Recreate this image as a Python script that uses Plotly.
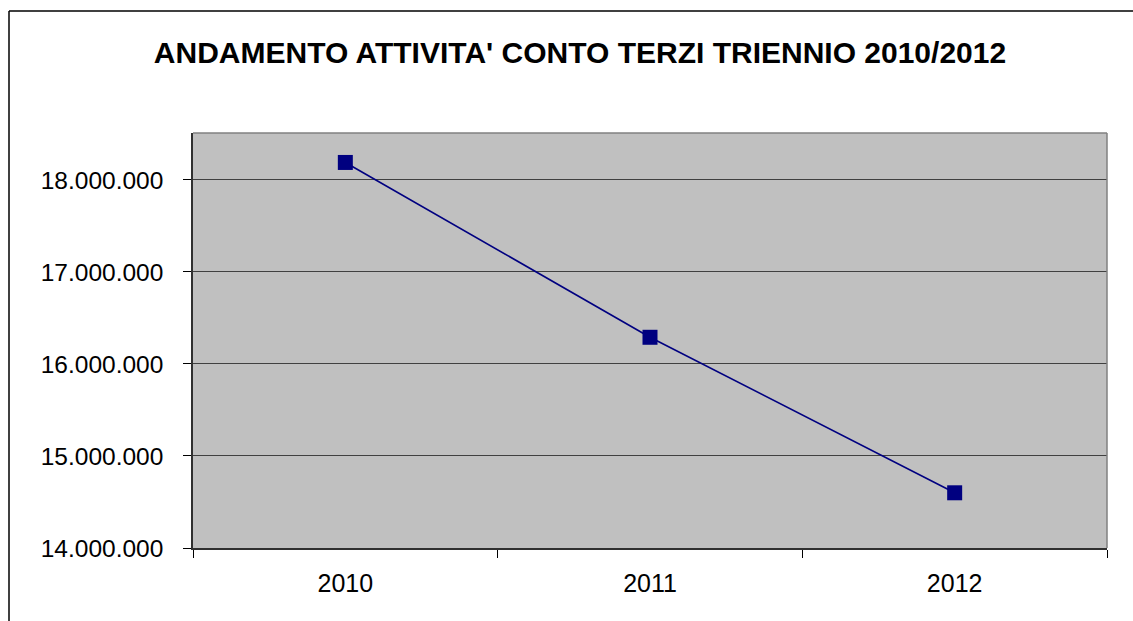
import plotly.graph_objects as go

years = ["2010", "2011", "2012"]
values = [18190000, 16290000, 14600000]
y_ticks = [14000000, 15000000, 16000000, 17000000, 18000000]
title_text = "ANDAMENTO ATTIVITA' CONTO TERZI TRIENNIO 2010/2012"

W, H = 1133, 621
L, R, T, B = 193, 1107, 133, 548

fig = go.Figure()
fig.add_trace(go.Scatter(
    x=years, y=values, mode="lines+markers",
    line=dict(color="#000080", width=1.6),
    marker=dict(symbol="square", size=15, color="#000080"),
    showlegend=False, hoverinfo="skip"
))

pw, ph = R - L, B - T
def px_x(v):
    return (v - L) / pw
def px_y(v):
    return (B - v) / ph

fig.update_layout(
    width=W, height=H,
    margin=dict(l=L, r=W - R, t=T, b=H - B, pad=0),
    paper_bgcolor="white", plot_bgcolor="#C0C0C0",
    separators=",.",
    font=dict(family="Liberation Sans, Arial", color="black"),
    title=dict(text="<b>" + title_text + "</b>", x=580 / W, xanchor="center",
               y=1 - 52 / H, yanchor="middle",
               font=dict(size=30, family="Liberation Sans, Arial", color="black")),
    xaxis=dict(type="category", range=[-0.5, 2.5], tickson="boundaries",
               ticks="outside", ticklen=8, tickcolor="black", showgrid=False,
               showline=True, linecolor="#303030", linewidth=1.5,
               tickfont=dict(size=25), ticklabelstandoff=12),
    yaxis=dict(range=[14000000, 18510000], tickvals=y_ticks, tickformat=",d",
               ticks="outside", ticklen=8, tickcolor="black",
               showgrid=True, gridcolor="#404040", gridwidth=1,
               showline=True, linecolor="#303030", linewidth=1.5,
               tickfont=dict(size=24.5), ticklabelstandoff=15, zeroline=False),
    shapes=[
        dict(type="line", xref="paper", yref="paper", x0=0, x1=1, y0=1, y1=1,
             line=dict(color="#808080", width=1.5)),
        dict(type="line", xref="paper", yref="paper", x0=1, x1=1, y0=0, y1=1,
             line=dict(color="#808080", width=1.5)),
        dict(type="line", xref="paper", yref="paper", x0=px_x(9), x1=px_x(1140),
             y0=px_y(11), y1=px_y(11), line=dict(color="black", width=1.5)),
        dict(type="line", xref="paper", yref="paper", x0=px_x(9), x1=px_x(9),
             y0=px_y(11), y1=px_y(630), line=dict(color="black", width=1.5)),
    ],
)

fig.write_html("out.html", config={"displayModeBar": False},
               post_script="document.body.style.margin='0';document.body.style.overflow='hidden';")
